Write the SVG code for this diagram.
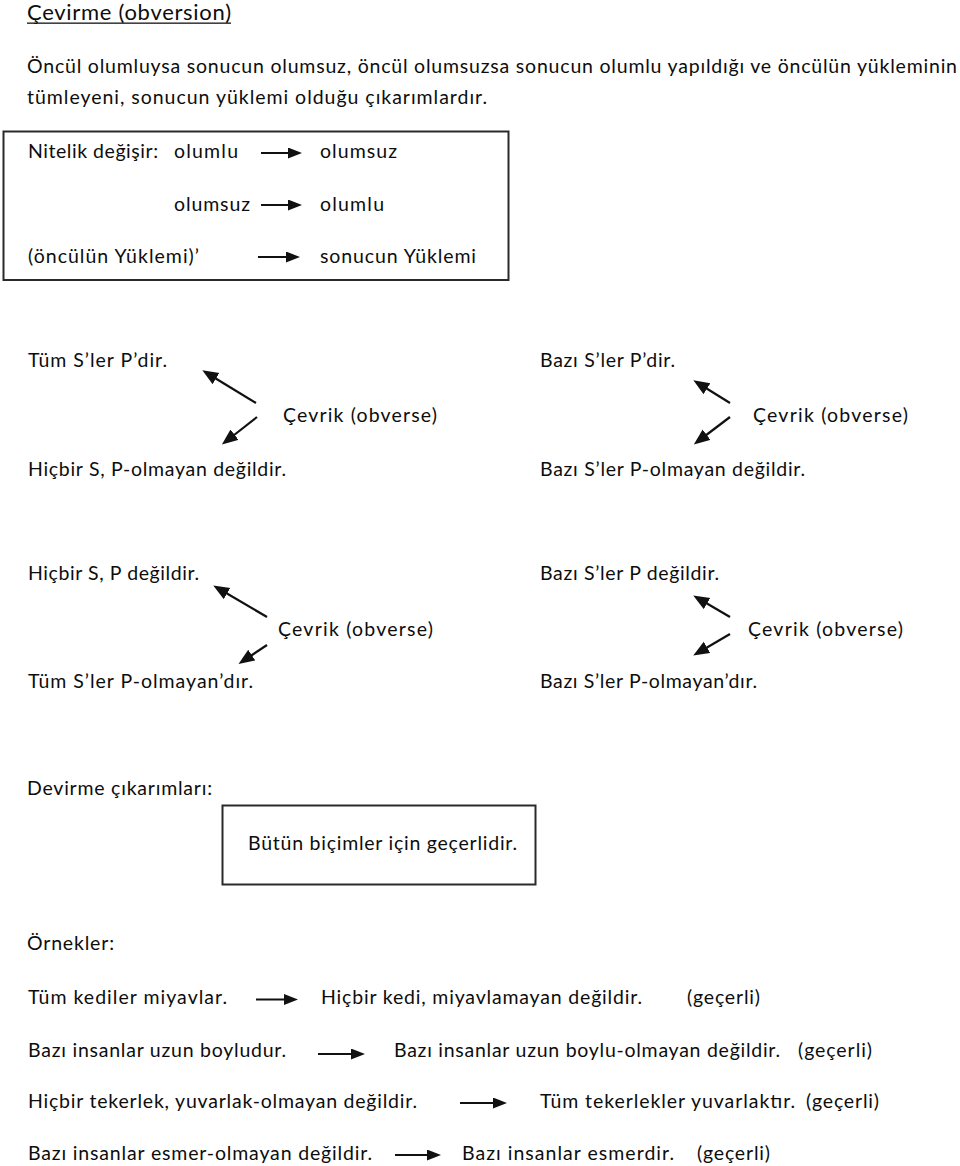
<svg xmlns="http://www.w3.org/2000/svg" width="960" height="1166" viewBox="0 0 960 1166">
<style>
text{font-family:Lato,"Liberation Sans","DejaVu Sans",sans-serif;font-size:19.5px;fill:#0d0d0d;}
.title{font-size:22px;}
.ln{stroke:#111;stroke-width:2.2;fill:none;}
.box{fill:none;stroke:#2a2a2a;stroke-width:2;}
.h{marker-end:url(#ah);}
.d{marker-end:url(#ad);}
</style>
<defs>
<marker id="ah" markerUnits="userSpaceOnUse" markerWidth="15" markerHeight="12" refX="6" refY="5.5" orient="auto"><path d="M0,0 L14,5.5 L0,11 z" fill="#111"/></marker>
<marker id="ad" markerUnits="userSpaceOnUse" markerWidth="17" markerHeight="14" refX="7" refY="6.5" orient="auto"><path d="M0,0 L16,6.5 L0,13 z" fill="#111"/></marker>
</defs>
<rect width="960" height="1166" fill="#fff"/>

<g id="header">
<text class="title" x="27" y="20" textLength="204">Çevirme (obversion)</text>
<rect x="27" y="22.5" width="204" height="1.3" fill="#141414"/>
<text x="27" y="73" textLength="930">Öncül olumluysa sonucun olumsuz, öncül olumsuzsa sonucun olumlu yapıldığı ve öncülün yükleminin</text>
<text x="27" y="104" textLength="460">tümleyeni, sonucun yüklemi olduğu çıkarımlardır.</text>
</g>

<g id="nitelik-box">
<rect class="box" x="3.5" y="131.5" width="505" height="148.5"/>
<text x="28" y="158" textLength="130">Nitelik değişir:</text>
<text x="174" y="158" textLength="64">olumlu</text>
<text x="320" y="158" textLength="77">olumsuz</text>
<text x="174" y="211" textLength="76">olumsuz</text>
<text x="320" y="211" textLength="64">olumlu</text>
<text x="28" y="263" textLength="171">(öncülün Yüklemi)’</text>
<text x="320" y="263" textLength="156">sonucun Yüklemi</text>
</g>

<g id="obv1">
<text x="28" y="367" textLength="139">Tüm S’ler P’dir.</text>
<text x="283" y="422" textLength="154">Çevrik (obverse)</text>
<text x="28" y="476" textLength="258">Hiçbir S, P-olmayan değildir.</text>
</g>
<g id="obv2">
<text x="540" y="367" textLength="135">Bazı S’ler P’dir.</text>
<text x="753" y="422" textLength="155">Çevrik (obverse)</text>
<text x="540" y="476" textLength="265">Bazı S’ler P-olmayan değildir.</text>
</g>
<g id="obv3">
<text x="28" y="580" textLength="171">Hiçbir S, P değildir.</text>
<text x="278" y="636" textLength="155">Çevrik (obverse)</text>
<text x="28" y="688" textLength="225">Tüm S’ler P-olmayan’dır.</text>
</g>
<g id="obv4">
<text x="540" y="580" textLength="179">Bazı S’ler P değildir.</text>
<text x="748" y="636" textLength="155">Çevrik (obverse)</text>
<text x="540" y="688" textLength="217">Bazı S’ler P-olmayan’dır.</text>
</g>

<g id="devirme">
<text x="27" y="795" textLength="185">Devirme çıkarımları:</text>
<rect class="box" x="222.5" y="805.5" width="313" height="79"/>
<text x="248" y="850" textLength="269">Bütün biçimler için geçerlidir.</text>
</g>

<g id="ornekler">
<text x="27" y="950" textLength="87">Örnekler:</text>
<text x="28" y="1004" textLength="199">Tüm kediler miyavlar.</text>
<text x="321" y="1004" textLength="321">Hiçbir kedi, miyavlamayan değildir.</text>
<text x="687" y="1004" textLength="73">(geçerli)</text>
<text x="28" y="1057" textLength="258">Bazı insanlar uzun boyludur.</text>
<text x="394" y="1057" textLength="386">Bazı insanlar uzun boylu-olmayan değildir.</text>
<text x="798" y="1057" textLength="74">(geçerli)</text>
<text x="28" y="1108" textLength="389">Hiçbir tekerlek, yuvarlak-olmayan değildir.</text>
<text x="540" y="1108" textLength="255">Tüm tekerlekler yuvarlaktır.</text>
<text x="806" y="1108" textLength="73">(geçerli)</text>
<text x="28" y="1160" textLength="344">Bazı insanlar esmer-olmayan değildir.</text>
<text x="462" y="1160" textLength="212">Bazı insanlar esmerdir.</text>
<text x="697" y="1160" textLength="73">(geçerli)</text>
</g>

<g id="connectors">
<line class="ln h" x1="261" y1="153" x2="294" y2="153"/>
<line class="ln h" x1="261" y1="205" x2="294" y2="205"/>
<line class="ln h" x1="258" y1="257" x2="292" y2="257"/>

<line class="ln d" x1="256" y1="403" x2="210" y2="375"/>
<line class="ln d" x1="257" y1="417" x2="229" y2="439"/>
<line class="ln d" x1="730" y1="403" x2="701" y2="385"/>
<line class="ln d" x1="730" y1="417" x2="701" y2="439"/>
<line class="ln d" x1="267" y1="617" x2="221" y2="590"/>
<line class="ln d" x1="267" y1="645" x2="246" y2="659"/>
<line class="ln d" x1="730" y1="617" x2="701" y2="600"/>
<line class="ln d" x1="730" y1="634" x2="701" y2="651"/>

<line class="ln h" x1="256" y1="999.5" x2="290" y2="999.5"/>
<line class="ln h" x1="318" y1="1054" x2="357" y2="1054"/>
<line class="ln h" x1="460" y1="1103" x2="499" y2="1103"/>
<line class="ln h" x1="395" y1="1155" x2="433" y2="1155"/>
</g>
</svg>
